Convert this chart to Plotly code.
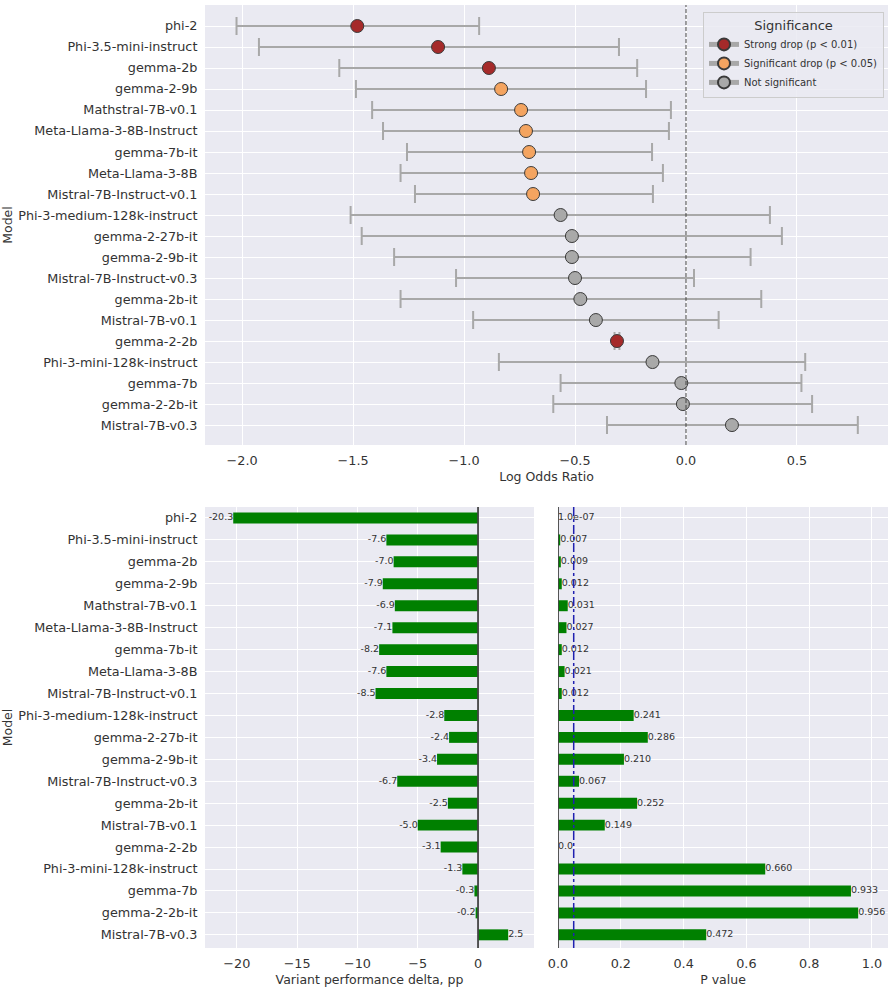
import plotly.graph_objects as go

models = ["phi-2", "Phi-3.5-mini-instruct", "gemma-2b", "gemma-2-9b", "Mathstral-7B-v0.1",
          "Meta-Llama-3-8B-Instruct", "gemma-7b-it", "Meta-Llama-3-8B", "Mistral-7B-Instruct-v0.1",
          "Phi-3-medium-128k-instruct", "gemma-2-27b-it", "gemma-2-9b-it", "Mistral-7B-Instruct-v0.3",
          "gemma-2b-it", "Mistral-7B-v0.1", "gemma-2-2b", "Phi-3-mini-128k-instruct", "gemma-7b",
          "gemma-2-2b-it", "Mistral-7B-v0.3"]
log_or = [-1.481, -1.117, -0.888, -0.833, -0.743, -0.721, -0.707, -0.698, -0.689,
          -0.565, -0.514, -0.514, -0.500, -0.476, -0.406, -0.311, -0.151, -0.021, -0.014, 0.207]
ci_low = [-2.025, -1.924, -1.562, -1.487, -1.414, -1.365, -1.257, -1.286, -1.221,
          -1.511, -1.461, -1.315, -1.036, -1.286, -0.959, -0.322, -0.843, -0.565, -0.598, -0.356]
ci_high = [-0.932, -0.302, -0.220, -0.180, -0.068, -0.077, -0.153, -0.104, -0.149,
           0.378, 0.432, 0.291, 0.036, 0.339, 0.147, -0.300, 0.537, 0.520, 0.568, 0.774]
significance = ["strong", "strong", "strong", "sig", "sig", "sig", "sig", "sig", "sig",
                "ns", "ns", "ns", "ns", "ns", "ns", "strong", "ns", "ns", "ns", "ns"]
delta_pp = [-20.3, -7.6, -7.0, -7.9, -6.9, -7.1, -8.2, -7.6, -8.5, -2.8, -2.4, -3.4, -6.7,
            -2.5, -5.0, -3.1, -1.3, -0.3, -0.2, 2.5]
p_values = [1e-07, 0.007, 0.009, 0.012, 0.031, 0.027, 0.012, 0.021, 0.012, 0.241, 0.286,
            0.210, 0.067, 0.252, 0.149, 0.0, 0.660, 0.933, 0.956, 0.472]
p_labels = ["1.0e-07", "0.007", "0.009", "0.012", "0.031", "0.027", "0.012", "0.021", "0.012",
            "0.241", "0.286", "0.210", "0.067", "0.252", "0.149", "0.0", "0.660", "0.933",
            "0.956", "0.472"]

cats = {
    "strong": ("Strong drop (p < 0.01)", "#a52a2a"),
    "sig": ("Significant drop (p < 0.05)", "#f4a460"),
    "ns": ("Not significant", "#a9a9a9"),
}

FONT = "DejaVu Sans"
TXT = "#333333"
BG = "#eaeaf2"
ypos = list(range(len(models)))

fig = go.Figure()

for key, (label, color) in cats.items():
    idx = [i for i, s in enumerate(significance) if s == key]
    fig.add_trace(go.Scatter(
        x=[log_or[i] for i in idx], y=[ypos[i] for i in idx], mode="markers",
        marker=dict(size=13, color=color, line=dict(color="#3a3a3a", width=1)),
        error_x=dict(type="data", symmetric=False,
                     array=[ci_high[i] - log_or[i] for i in idx],
                     arrayminus=[log_or[i] - ci_low[i] for i in idx],
                     color="#a8a8a8", thickness=2, width=9),
        showlegend=False, xaxis="x", yaxis="y"))

for key, (label, color) in cats.items():
    fig.add_trace(go.Scatter(
        x=[None], y=[None], mode="lines+markers", name=label,
        marker=dict(size=13, color=color, line=dict(color="#3a3a3a", width=1)),
        line=dict(color="#a8a8a8", width=2), xaxis="x", yaxis="y"))

fig.add_trace(go.Bar(
    x=delta_pp, y=ypos, orientation="h", width=0.5, marker=dict(color="#008000", line=dict(width=0)),
    showlegend=False, xaxis="x2", yaxis="y2"))
fig.add_trace(go.Scatter(
    x=delta_pp, y=ypos, mode="text", text=[f"{v:.1f}" for v in delta_pp],
    textposition=["middle left" if v < 0 else "middle right" for v in delta_pp],
    textfont=dict(size=9.5, color=TXT, family=FONT), cliponaxis=False,
    showlegend=False, xaxis="x2", yaxis="y2"))

fig.add_trace(go.Bar(
    x=p_values, y=ypos, orientation="h", width=0.5, marker=dict(color="#008000", line=dict(width=0)),
    showlegend=False, xaxis="x3", yaxis="y3"))
fig.add_trace(go.Scatter(
    x=p_values, y=ypos, mode="text", text=p_labels, textposition="middle right",
    textfont=dict(size=9.5, color=TXT, family=FONT), cliponaxis=False,
    showlegend=False, xaxis="x3", yaxis="y3"))

W, H = 894, 987
def px(x): return x / W
def py(y): return 1 - y / H

axis_common = dict(showgrid=True, gridcolor="white", gridwidth=1, zeroline=False,
                   showline=False, ticks="outside", ticklen=4, tickcolor="rgba(0,0,0,0)",
                   automargin=False, tickfont=dict(size=12.8, color=TXT, family=FONT))
title_font = dict(size=12.5, color=TXT, family=FONT)

fig.update_layout(
    width=W, height=H, margin=dict(l=0, r=0, t=0, b=0, autoexpand=False),
    paper_bgcolor="white", plot_bgcolor=BG,
    font=dict(family=FONT, color=TXT),
    xaxis=dict(domain=[px(205), px(888)], anchor="y", range=[-2.167, 0.91], dtick=0.5,
               tickformat=".1f", title=dict(text="Log Odds Ratio", font=title_font, standoff=4),
               **axis_common),
    yaxis=dict(domain=[py(445), py(5)], anchor="x", range=[19.95, -1.0],
               tickvals=ypos, ticktext=models,
               title=dict(text="Model", font=title_font, standoff=2),
               **axis_common),
    xaxis2=dict(domain=[px(205), px(534)], anchor="y2", range=[-22.64, 4.64], dtick=5,
                title=dict(text="Variant performance delta, pp", font=title_font, standoff=4),
                **axis_common),
    yaxis2=dict(domain=[py(948), py(507)], anchor="x2", range=[19.6, -0.5],
                tickvals=ypos, ticktext=models,
                title=dict(text="Model", font=title_font, standoff=2),
                **axis_common),
    xaxis3=dict(domain=[px(558), px(888)], anchor="y3", range=[0, 1.051], dtick=0.2,
                tickformat=".1f",
                title=dict(text="P value", font=title_font, standoff=4),
                **axis_common),
    yaxis3=dict(domain=[py(948), py(507)], anchor="x3", range=[19.6, -0.5],
                tickvals=ypos, showticklabels=False, **axis_common),
    legend=dict(x=px(884), y=py(12), xanchor="right", yanchor="top",
                bgcolor="rgba(234,234,242,0.85)", bordercolor="#cccccc", borderwidth=1,
                font=dict(size=10, color=TXT, family=FONT), itemsizing="constant", itemwidth=30,
                title=dict(text="Significance", font=dict(size=13, color=TXT, family=FONT), side="top center"),
                tracegroupgap=0),
    shapes=[
        dict(type="line", xref="x", yref="y domain", x0=0, x1=0, y0=0, y1=1,
             line=dict(color="#444444", width=1, dash="4px,2px")),
        dict(type="line", xref="x2", yref="y2 domain", x0=0, x1=0, y0=0, y1=1,
             line=dict(color="#444444", width=1.8)),
        dict(type="line", xref="x3", yref="y3 domain", x0=0, x1=0, y0=0, y1=1,
             line=dict(color="#444444", width=1.8)),
        dict(type="line", xref="x3", yref="y3 domain", x0=0.05, x1=0.05, y0=0, y1=1,
             line=dict(color="#2020b0", width=1.5, dash="dashdot")),
    ],
)

fig.write_html("out.html")
